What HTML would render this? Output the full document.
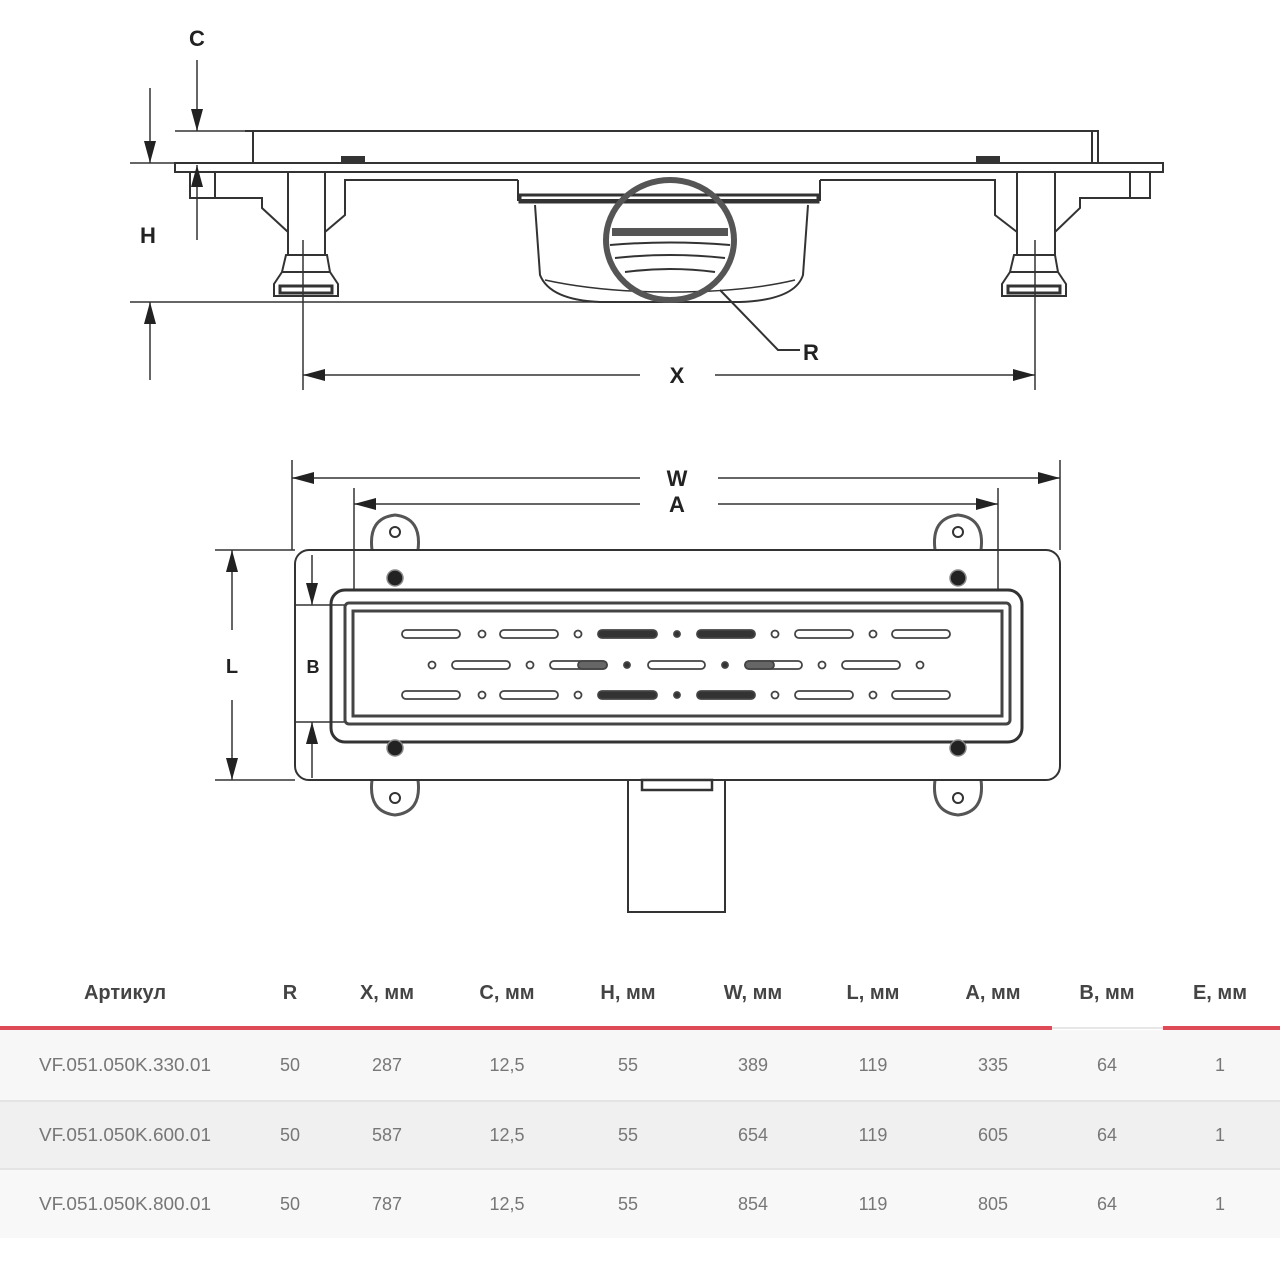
<!DOCTYPE html>
<html><head><meta charset="utf-8"><style>
html,body{margin:0;padding:0;background:#fff;width:1280px;height:1280px;overflow:hidden}
svg{position:absolute;left:0;top:0}
.t{font-family:"Liberation Sans","DejaVu Sans",sans-serif}
</style></head><body>
<svg width="1280" height="1280" viewBox="0 0 1280 1280" xmlns="http://www.w3.org/2000/svg">
<defs>
<marker id="ah" viewBox="0 0 22 12" refX="22" refY="6" markerWidth="22" markerHeight="12" markerUnits="userSpaceOnUse" orient="auto"><path d="M0,0 L22,6 L0,12z" fill="#222"/></marker>
</defs>
<g stroke="#333" fill="none" stroke-width="2">
<path d="M245,131 H1098 V163"/>
<line x1="253" y1="131" x2="253" y2="163"/>
<line x1="1092" y1="131" x2="1092" y2="163"/>
<rect x="175" y="163" width="988" height="9" stroke-width="2"/>
<rect x="342" y="157" width="22" height="5" fill="#333"/>
<rect x="977" y="157" width="22" height="5" fill="#333"/>
<path d="M190,172 V198 H215 V172"/>
<path d="M215,198 H262 V208 L288,232"/>
<path d="M325,232 L345,215 V180 H518"/>
<line x1="288" y1="172" x2="288" y2="255"/>
<line x1="325" y1="172" x2="325" y2="255"/>
<path d="M286,255 H327 L330,272 L338,284 V296 H274 V284 L282,272 Z"/>
<line x1="282" y1="272" x2="330" y2="272"/>
<rect x="280" y="286" width="52" height="7" stroke-width="3"/>
<line x1="303" y1="240" x2="303" y2="390" stroke-width="1.5"/>
<path d="M1150,172 V198 H1130 V172"/>
<path d="M1130,198 H1080 V208 L1055,232"/>
<path d="M1017,232 L995,215 V180 H820"/>
<line x1="1017" y1="172" x2="1017" y2="255"/>
<line x1="1055" y1="172" x2="1055" y2="255"/>
<path d="M1014,255 H1055 L1058,272 L1066,284 V296 H1002 V284 L1010,272 Z"/>
<line x1="1010" y1="272" x2="1058" y2="272"/>
<rect x="1008" y="286" width="52" height="7" stroke-width="3"/>
<line x1="1035" y1="240" x2="1035" y2="390" stroke-width="1.5"/>
<path d="M518,180 V200 H820 V180"/>
<rect x="520" y="195" width="298" height="7" stroke-width="3"/>
<path d="M535,205 L540,275 Q550,300 600,302 H740 Q795,300 803,275 L808,205"/>
<path d="M545,280 Q600,292 670,292 Q745,292 795,280" stroke-width="1.5"/>
<ellipse cx="670" cy="240" rx="64" ry="60" stroke-width="6" stroke="#555"/>
<rect x="612" y="228" width="116" height="8" fill="#555" stroke="none"/>
<path d="M610,245 Q670,240 730,245 M615,258 Q670,252 725,258 M625,272 Q670,266 715,272" stroke-width="2"/>
<polyline points="720,290 778,350 800,350" stroke-width="2"/>
<line x1="175" y1="131" x2="245" y2="131" stroke-width="1.5"/>
<line x1="130" y1="163" x2="245" y2="163" stroke-width="1.5"/>
<line x1="130" y1="302" x2="620" y2="302" stroke-width="1.5"/>
<line x1="197" y1="60" x2="197" y2="131" marker-end="url(#ah)" stroke-width="1.5"/>
<line x1="150" y1="88" x2="150" y2="163" marker-end="url(#ah)" stroke-width="1.5"/>
<line x1="197" y1="240" x2="197" y2="165" marker-end="url(#ah)" stroke-width="1.5"/>
<line x1="150" y1="380" x2="150" y2="302" marker-end="url(#ah)" stroke-width="1.5"/>
<line x1="640" y1="375" x2="303" y2="375" marker-end="url(#ah)" stroke-width="1.5"/>
<line x1="715" y1="375" x2="1035" y2="375" marker-end="url(#ah)" stroke-width="1.5"/>

<line x1="292" y1="460" x2="292" y2="550" stroke-width="1.5"/>
<line x1="1060" y1="460" x2="1060" y2="550" stroke-width="1.5"/>
<line x1="354" y1="488" x2="354" y2="590" stroke-width="1.5"/>
<line x1="998" y1="488" x2="998" y2="590" stroke-width="1.5"/>
<line x1="640" y1="478" x2="292" y2="478" marker-end="url(#ah)" stroke-width="1.5"/>
<line x1="718" y1="478" x2="1060" y2="478" marker-end="url(#ah)" stroke-width="1.5"/>
<line x1="640" y1="504" x2="354" y2="504" marker-end="url(#ah)" stroke-width="1.5"/>
<line x1="718" y1="504" x2="998" y2="504" marker-end="url(#ah)" stroke-width="1.5"/>
<path d="M372,550 Q368,518 395,515 Q422,518 418,550" stroke-width="3" stroke="#555"/>
<path d="M935,550 Q931,518 958,515 Q985,518 981,550" stroke-width="3" stroke="#555"/>
<path d="M372,780 Q368,812 395,815 Q422,812 418,780" stroke-width="3" stroke="#555"/>
<path d="M935,780 Q931,812 958,815 Q985,812 981,780" stroke-width="3" stroke="#555"/>
<circle cx="395" cy="532" r="5"/><circle cx="958" cy="532" r="5"/>
<circle cx="395" cy="798" r="5"/><circle cx="958" cy="798" r="5"/>
<rect x="295" y="550" width="765" height="230" rx="14"/>
<line x1="215" y1="550" x2="295" y2="550" stroke-width="1.5"/>
<line x1="215" y1="780" x2="295" y2="780" stroke-width="1.5"/>
<line x1="232" y1="630" x2="232" y2="550" marker-end="url(#ah)" stroke-width="1.5"/>
<line x1="232" y1="700" x2="232" y2="780" marker-end="url(#ah)" stroke-width="1.5"/>
<line x1="295" y1="605" x2="345" y2="605" stroke-width="1.5"/>
<line x1="295" y1="722" x2="345" y2="722" stroke-width="1.5"/>
<line x1="312" y1="555" x2="312" y2="605" marker-end="url(#ah)" stroke-width="1.5"/>
<line x1="312" y1="778" x2="312" y2="722" marker-end="url(#ah)" stroke-width="1.5"/>
<rect x="331" y="590" width="691" height="152" rx="14" stroke-width="3"/>
<rect x="345" y="603" width="665" height="121" rx="4" stroke-width="3" stroke="#444"/>
<rect x="353" y="611" width="649" height="105" stroke-width="3" stroke="#444"/>
<g fill="#222" stroke="#888" stroke-width="1.5">
<circle cx="395" cy="578" r="8"/><circle cx="958" cy="578" r="8"/>
<circle cx="395" cy="748" r="8"/><circle cx="958" cy="748" r="8"/>
</g>
<path d="M628,780 V912 H725 V780"/>
<rect x="642" y="780" width="70" height="10" stroke-width="2.5"/>
</g>
<g stroke="#444" stroke-width="1.8" fill="#fff">
<g id="r1">
<rect x="402" y="630" width="58" height="8" rx="4"/><circle cx="482" cy="634" r="3.5"/>
<rect x="500" y="630" width="58" height="8" rx="4"/><circle cx="578" cy="634" r="3.5"/>
<rect x="598" y="630" width="59" height="8" rx="4" fill="#333"/><circle cx="677" cy="634" r="3" fill="#333"/>
<rect x="697" y="630" width="58" height="8" rx="4" fill="#333"/><circle cx="775" cy="634" r="3.5"/>
<rect x="795" y="630" width="58" height="8" rx="4"/><circle cx="873" cy="634" r="3.5"/>
<rect x="892" y="630" width="58" height="8" rx="4"/>
</g>
<use href="#r1" y="61"/>
<circle cx="432" cy="665" r="3.5"/><rect x="452" y="661" width="58" height="8" rx="4"/>
<circle cx="530" cy="665" r="3.5"/><rect x="550" y="661" width="57" height="8" rx="4"/>
<rect x="578" y="661" width="29" height="8" rx="4" fill="#666"/>
<circle cx="627" cy="665" r="3" fill="#333"/><rect x="648" y="661" width="57" height="8" rx="4"/>
<circle cx="725" cy="665" r="3" fill="#333"/><rect x="745" y="661" width="57" height="8" rx="4"/>
<rect x="745" y="661" width="29" height="8" rx="4" fill="#666"/>
<circle cx="822" cy="665" r="3.5"/><rect x="842" y="661" width="58" height="8" rx="4"/>
<circle cx="920" cy="665" r="3.5"/>
</g>
<g class="t" font-weight="bold" font-size="22" fill="#222" text-anchor="middle">
<text x="197" y="46">C</text>
<text x="148" y="243">H</text>
<text x="677" y="383">X</text>
<text x="811" y="360">R</text>
<text x="677" y="486">W</text>
<text x="677" y="512">A</text>
<text x="232" y="673" font-size="20">L</text>
<text x="313" y="673" font-size="18">B</text>
</g>
<rect x="0" y="1030" width="1280" height="70" fill="#f7f7f7"/>
<rect x="0" y="1102" width="1280" height="66" fill="#f0f0f0"/>
<rect x="0" y="1170" width="1280" height="68" fill="#f8f8f8"/>
<line x1="0" y1="1101" x2="1280" y2="1101" stroke="#e4e4e4" stroke-width="2"/>
<line x1="0" y1="1169" x2="1280" y2="1169" stroke="#e4e4e4" stroke-width="2"/>
<rect x="0" y="1026" width="1052" height="4" fill="#de4a55"/>
<rect x="1052" y="1027" width="111" height="2" fill="#e6e6e6"/>
<rect x="1163" y="1026" width="117" height="4" fill="#de4a55"/>
<g class="t" font-size="20" font-weight="bold" fill="#444" text-anchor="middle">
<text x="125" y="999">Артикул</text><text x="290" y="999">R</text><text x="387" y="999">X, мм</text>
<text x="507" y="999">C, мм</text><text x="628" y="999">H, мм</text><text x="753" y="999">W, мм</text>
<text x="873" y="999">L, мм</text><text x="993" y="999">A, мм</text><text x="1107" y="999">B, мм</text>
<text x="1220" y="999">E, мм</text>
</g>
<g class="t" font-size="18" fill="#777" text-anchor="middle">
<text x="125" y="1071" textLength="172" lengthAdjust="spacingAndGlyphs">VF.051.050K.330.01</text><text x="290" y="1071">50</text><text x="387" y="1071">287</text><text x="507" y="1071">12,5</text><text x="628" y="1071">55</text><text x="753" y="1071">389</text><text x="873" y="1071">119</text><text x="993" y="1071">335</text><text x="1107" y="1071">64</text><text x="1220" y="1071">1</text>
<text x="125" y="1141" textLength="172" lengthAdjust="spacingAndGlyphs">VF.051.050K.600.01</text><text x="290" y="1141">50</text><text x="387" y="1141">587</text><text x="507" y="1141">12,5</text><text x="628" y="1141">55</text><text x="753" y="1141">654</text><text x="873" y="1141">119</text><text x="993" y="1141">605</text><text x="1107" y="1141">64</text><text x="1220" y="1141">1</text>
<text x="125" y="1210" textLength="172" lengthAdjust="spacingAndGlyphs">VF.051.050K.800.01</text><text x="290" y="1210">50</text><text x="387" y="1210">787</text><text x="507" y="1210">12,5</text><text x="628" y="1210">55</text><text x="753" y="1210">854</text><text x="873" y="1210">119</text><text x="993" y="1210">805</text><text x="1107" y="1210">64</text><text x="1220" y="1210">1</text>
</g>
</svg>
</body></html>
